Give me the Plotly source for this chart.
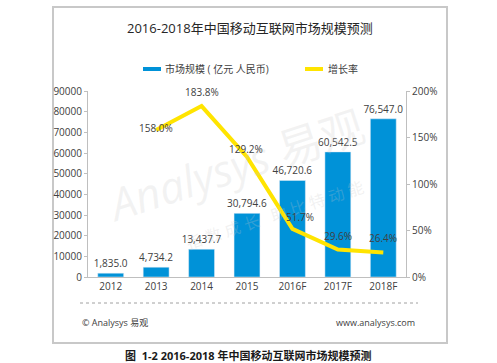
import plotly.graph_objects as go

years = ["2012", "2013", "2014", "2015", "2016F", "2017F", "2018F"]
market_size = [1835.0, 4734.2, 13437.7, 30794.6, 46720.6, 60542.5, 76547.0]
growth_years = ["2013", "2014", "2015", "2016F", "2017F", "2018F"]
growth_rate = [1.580, 1.838, 1.292, 0.517, 0.296, 0.264]
growth_labels = ["158.0%", "183.8%", "129.2%", "51.7%", "29.6%", "26.4%"]
left_ticks = [0, 10000, 20000, 30000, 40000, 50000, 60000, 70000, 80000, 90000]
right_ticks = [0, 0.5, 1.0, 1.5, 2.0]
right_tick_text = ["0%", "50%", "100%", "150%", "200%"]

W, H = 497, 363
L, R, T, B = 88, 406, 91, 277

def px(x):
    return (x - L) / (R - L)

def py(y):
    return (B - y) / (B - T)

FONT = "Open Sans, Noto Sans CJK SC, sans-serif"
TXT = "#404040"
BLUE = "#0092D8"
YEL = "#FFE400"

fig = go.Figure()
fig.add_trace(go.Bar(
    x=years, y=market_size, marker_color=BLUE, width=0.57,
    texttemplate="%{y:,.1f}", textposition="outside", constraintext="none",
    textfont=dict(size=10, color=TXT, family=FONT), cliponaxis=False,
    name="市场规模（亿元 人民币)", showlegend=False))
fig.add_trace(go.Scatter(
    x=growth_years, y=growth_rate, yaxis="y2", mode="lines",
    line=dict(color=YEL, width=4), cliponaxis=False,
    name="增长率", showlegend=False))

shapes = [
    dict(type="rect", xref="paper", yref="paper", x0=px(53), x1=px(447), y0=py(343), y1=py(7),
         line=dict(color="#C8C8C8", width=2), fillcolor="rgba(0,0,0,0)", layer="below"),
    dict(type="line", xref="paper", yref="paper", x0=px(80), x1=px(418), y0=py(303), y1=py(303),
         line=dict(color="#A0A0A0", width=1, dash="dot")),
    dict(type="rect", xref="paper", yref="paper", x0=px(143), x1=px(161), y0=py(71), y1=py(67),
         line=dict(width=0), fillcolor=BLUE),
    dict(type="rect", xref="paper", yref="paper", x0=px(305), x1=px(323), y0=py(71), y1=py(67),
         line=dict(width=0), fillcolor=YEL),
]

annotations = [
    dict(text="<i>Analysys</i> 易观", x=px(235), y=py(165), xref="paper", yref="paper", textangle=-18,
         showarrow=False, font=dict(size=44, color="rgba(200,200,200,0.22)", family=FONT),
         xanchor="center", yanchor="middle"),
    dict(text="指 数 成 长   助 比 特 动 能", x=px(275), y=py(215), xref="paper", yref="paper", textangle=-18,
         showarrow=False, font=dict(size=16, color="rgba(200,200,200,0.25)", family=FONT),
         xanchor="center", yanchor="middle"),
    dict(text="2016-2018年中国移动互联网市场规模预测", x=px(250), y=py(28), xref="paper", yref="paper",
         showarrow=False, font=dict(size=13, color="#262626", family=FONT), xanchor="center", yanchor="middle"),
    dict(text="市场规模 ( 亿元 人民币)", x=px(163), y=py(69), xref="paper", yref="paper",
         showarrow=False, font=dict(size=10, color=TXT, family=FONT), xanchor="left", yanchor="middle"),
    dict(text="增长率", x=px(326), y=py(69), xref="paper", yref="paper",
         showarrow=False, font=dict(size=10, color=TXT, family=FONT), xanchor="left", yanchor="middle"),
    dict(text="© Analysys 易观", x=px(80), y=py(322), xref="paper", yref="paper",
         showarrow=False, font=dict(size=9, color=TXT, family=FONT), xanchor="left", yanchor="middle"),
    dict(text="www.analysys.com", x=px(417), y=py(322), xref="paper", yref="paper",
         showarrow=False, font=dict(size=9, color=TXT, family=FONT), xanchor="right", yanchor="middle"),
    dict(text="<b>图  1-2 2016-2018 年中国移动互联网市场规模预测</b>", x=px(248), y=py(355), xref="paper", yref="paper",
         showarrow=False, font=dict(size=11, color="#1a1a1a", family=FONT), xanchor="center", yanchor="middle"),
]

label_shift = [(0, 2), (0, 14), (-1, 8), (8, 12), (0, 13), (0, 14)]
for xv, yv, t, (dx, dy) in zip(growth_years, growth_rate, growth_labels, label_shift):
    annotations.append(dict(text=t, x=years.index(xv), y=yv, xref="x", yref="y2", showarrow=False,
                            xshift=dx, yshift=dy, xanchor="center", yanchor="middle",
                            font=dict(size=10, color=TXT, family=FONT)))

fig.update_layout(
    width=W, height=H, margin=dict(l=L, r=W - R, t=T, b=H - B),
    paper_bgcolor="white", plot_bgcolor="white", showlegend=False,
    font=dict(family=FONT, color=TXT, size=10), bargap=0.43,
    xaxis=dict(type="category", categoryorder="array", categoryarray=years, range=[-0.5, len(years) - 0.5],
               showline=True, linecolor="#BFBFBF", linewidth=1, ticks="", tickfont=dict(size=10, color=TXT),
               showgrid=False),
    yaxis=dict(range=[0, 90000], tickvals=left_ticks, showgrid=False, showline=True, linecolor="#BFBFBF",
               ticks="outside", ticklen=3, tickcolor="#BFBFBF", tickfont=dict(size=10, color=TXT),
               zeroline=False, tickformat="d"),
    yaxis2=dict(range=[0, 2.0], overlaying="y", side="right", tickvals=right_ticks, ticktext=right_tick_text,
                showgrid=False, showline=True, linecolor="#BFBFBF", ticks="outside", ticklen=3,
                tickcolor="#BFBFBF", tickfont=dict(size=10, color=TXT), zeroline=False),
    shapes=shapes, annotations=annotations,
)

fig.write_html("out.html")
